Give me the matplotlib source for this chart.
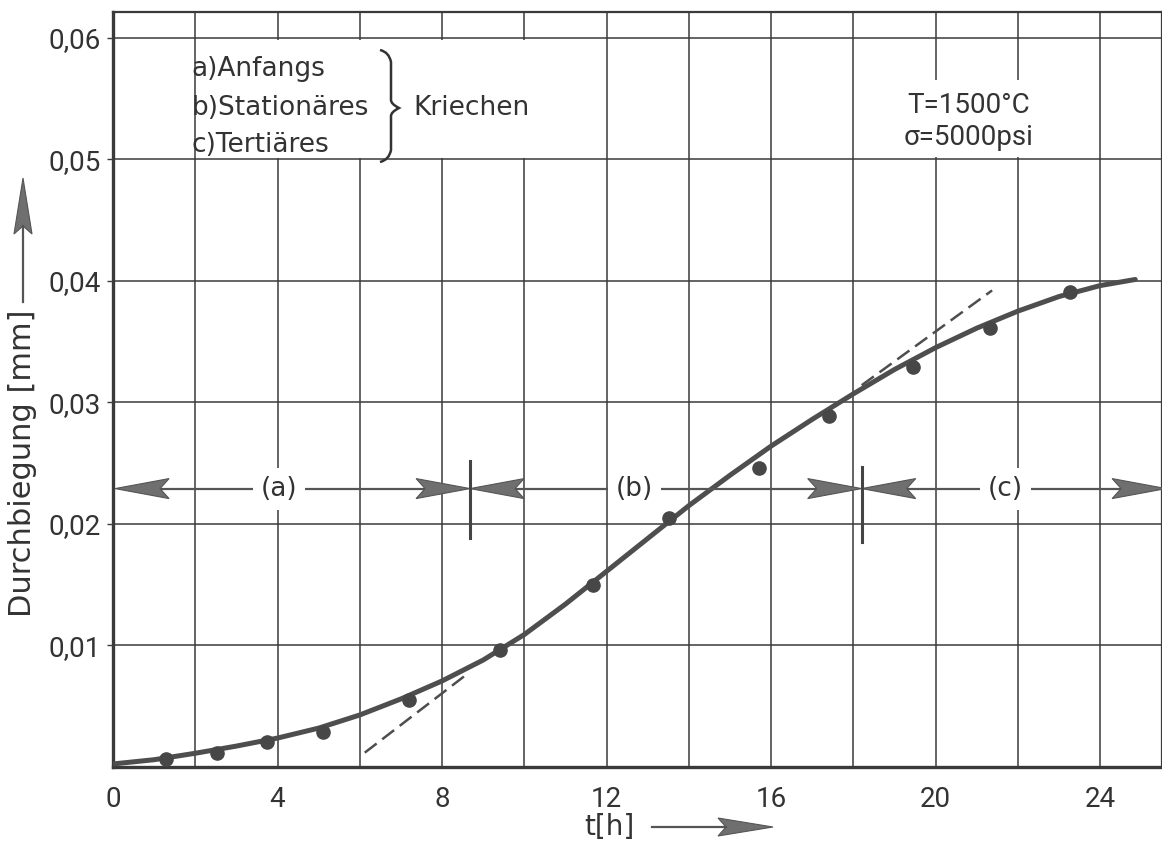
import matplotlib
matplotlib.use("Agg")
import matplotlib.pyplot as plt
from matplotlib.patches import Polygon, Rectangle
from matplotlib.path import Path
from matplotlib.patches import PathPatch

# ---------------- data ----------------
curve_t = [0, 1, 2, 3, 4, 5, 6, 7, 8, 9, 10, 11, 12, 13, 14, 15, 16, 17, 18,
           19, 20, 21, 22, 23, 24, 24.85]
curve_y = [0.00025, 0.0006, 0.00113, 0.00172, 0.00238, 0.0032, 0.00428, 0.0056,
           0.00708, 0.0088, 0.0109, 0.0134, 0.0161, 0.0188, 0.0215, 0.0240,
           0.0264, 0.0286, 0.0307, 0.0327, 0.0345, 0.0361, 0.0375, 0.0387,
           0.0396, 0.0401]

points_t = [1.29, 2.54, 3.75, 5.11, 7.20, 9.40, 11.67, 13.52, 15.71, 17.40,
            19.44, 21.31, 23.26]
points_y = [0.00066, 0.00118, 0.00209, 0.00291, 0.00553, 0.00965, 0.0150,
            0.0205, 0.02456, 0.0289, 0.0329, 0.0361, 0.0391]

tangent_a_t = [6.12, 8.58]
tangent_a_y = [0.00118, 0.00757]
tangent_c_t = [18.2, 21.37]
tangent_c_y = [0.0314, 0.0392]

phase_bounds = [0.05, 8.68, 18.2, 25.6]
phase_labels = ["(a)", "(b)", "(c)"]
phase_label_t = [4.03, 12.67, 21.7]
phase_y = 0.0229
phase_tick_lo = [0.0188, 0.0185]
phase_tick_hi = [0.0252, 0.0247]

x_ticks = [0, 4, 8, 12, 16, 20, 24]
x_ticklabels = ["0", "4", "8", "12", "16", "20", "24"]
y_ticks = [0.01, 0.02, 0.03, 0.04, 0.05, 0.06]
y_ticklabels = ["0,01", "0,02", "0,03", "0,04", "0,05", "0,06"]

legend_lines = ["a)Anfangs", "b)Stationäres", "c)Tertiäres"]
legend_word = "Kriechen"
cond_lines = "T=1500°C\nσ=5000psi"

# ---------------- geometry ----------------
W, H = 1162, 841
PL, PB, PR, PT = 113, 767, 1162, 12
XMAX, YMAX = 25.5, 0.0621
sx = (PR - PL) / XMAX      # px per hour
sy = (PB - PT) / YMAX      # px per unit

TXT = "#333333"
GRID = "#3a3a3a"
CURVE = "#4e4e4e"
FILL = "#6f6f6f"

fig = plt.figure(figsize=(W / 100, H / 100), dpi=100)
ax = fig.add_axes([PL / W, 1 - PB / H, (PR - PL) / W, (PB - PT) / H])
ax.set_xlim(0, XMAX)
ax.set_ylim(0, YMAX)

# grid
for t in range(2, 26, 2):
    ax.axvline(t, color=GRID, lw=1.1, zorder=1)
for y in y_ticks:
    ax.axhline(y, color=GRID, lw=1.1, zorder=1)

for s in ["left", "bottom"]:
    ax.spines[s].set_linewidth(2.4)
    ax.spines[s].set_color("#3a3a3a")
for s in ["top", "right"]:
    ax.spines[s].set_linewidth(1.6)
    ax.spines[s].set_color("#3a3a3a")

ax.set_xticks(x_ticks)
ax.set_xticklabels(x_ticklabels, fontfamily="Roboto", fontsize=20, color=TXT)
ax.set_yticks(y_ticks)
ax.set_yticklabels(y_ticklabels, fontfamily="Roboto", fontsize=20, color=TXT)
ax.tick_params(axis="x", length=0, pad=14)
ax.tick_params(axis="y", length=4, width=1, color=GRID, pad=5)

# white boxes where text interrupts the grid
ax.add_patch(Rectangle((2.06, 0.0501), 11.9 - 2.06, 0.0598 - 0.0501,
                       facecolor="white", edgecolor="none", zorder=2))
ax.add_patch(Rectangle((18.1, 0.0502), 23.9 - 18.1, 0.0565 - 0.0502,
                       facecolor="white", edgecolor="none", zorder=2))

# curve, points, tangents
ax.plot(curve_t, curve_y, color=CURVE, lw=3.6, solid_capstyle="round",
        solid_joinstyle="round", zorder=5)
ax.plot(points_t, points_y, "o", color="#474747", ms=9.5, zorder=6)
ax.plot(tangent_a_t, tangent_a_y, color=CURVE, lw=1.8, dashes=(6, 2.8), zorder=4)
ax.plot(tangent_c_t, tangent_c_y, color=CURVE, lw=1.8, dashes=(6, 2.8), zorder=4)

# phase arrows
HL = 54 / sx
HW = 10 / sy
NOTCH = 9 / sx


def head(tip, y, d):
    pts = [(tip, y), (tip - d * HL, y + HW), (tip - d * (HL - NOTCH), y),
           (tip - d * HL, y - HW)]
    ax.add_patch(Polygon(pts, closed=True, facecolor=FILL, edgecolor="#555555",
                         lw=0.8, zorder=7, clip_on=False))


for i in range(3):
    a, b = phase_bounds[i], phase_bounds[i + 1]
    head(a, phase_y, -1)
    head(b, phase_y, +1)
    ax.plot([a + HL - NOTCH, b - HL + NOTCH], [phase_y, phase_y], color="#555555",
            lw=1.6, zorder=6)
    ax.text(phase_label_t[i], phase_y, phase_labels[i], ha="center", va="center",
            fontsize=19, color=TXT, zorder=8,
            bbox=dict(boxstyle="square,pad=0.3", fc="white", ec="none"))
for i, tb in enumerate(phase_bounds[1:3]):
    ax.plot([tb, tb], [phase_tick_lo[i], phase_tick_hi[i]], color="#444444",
            lw=2.2, zorder=8)

# legend text
legend_t = 1.9
legend_base = [0.0568, 0.0536, 0.0506]
for txt, yb in zip(legend_lines, legend_base):
    ax.text(legend_t, yb, txt, ha="left", va="baseline", fontsize=19,
            color=TXT, zorder=8)
ax.text(7.3, 0.0536, legend_word, ha="left", va="baseline", fontsize=19,
        color=TXT, zorder=8)

# brace (in pixel units relative to its anchor)
bx = (391 - PL) / sx
def P(dx, dy):
    return (bx + dx / sx, (PB - dy) / sy)
verts = [P(-11, 50), P(-2, 52), P(0, 62), P(0, 62),
         P(0, 100), P(0, 100), P(0, 104), P(8, 108),
         P(0, 112), P(0, 116), P(0, 116), P(0, 150),
         P(0, 150), P(-2, 160), P(-11, 162)]
codes = [Path.MOVETO, Path.CURVE3, Path.CURVE3, Path.LINETO,
         Path.LINETO, Path.LINETO, Path.CURVE3, Path.CURVE3,
         Path.CURVE3, Path.CURVE3, Path.LINETO, Path.LINETO,
         Path.LINETO, Path.CURVE3, Path.CURVE3]
ax.add_patch(PathPatch(Path(verts, codes), facecolor="none", edgecolor=TXT,
                       lw=1.8, zorder=8))

# conditions
ax.text(20.8, 0.0555, cond_lines, ha="center", va="top", fontsize=20,
        fontfamily="Roboto", color=TXT, linespacing=1.25, zorder=8)

# axis labels with arrows (figure pixel coordinates)
def fx(x):
    return x / W
def fy(y):
    return 1 - y / H

fig.text(fx(23), fy(463), "Durchbiegung [mm]", rotation=90, ha="center",
         va="center", fontsize=22, color=TXT)
fig.add_artist(plt.Line2D([fx(23), fx(23)], [fy(302), fy(226)], color="#555555",
                          lw=1.6))
fig.add_artist(Polygon([(fx(23), fy(178)), (fx(32), fy(234)), (fx(23), fy(226)),
                        (fx(14), fy(234))], closed=True, facecolor=FILL,
                       edgecolor="#555555", lw=0.8))

fig.text(fx(609), fy(827), "t[h]", ha="center", va="center", fontsize=20,
         color=TXT)
fig.add_artist(plt.Line2D([fx(652), fx(726)], [fy(827), fy(827)], color="#555555",
                          lw=1.6))
fig.add_artist(Polygon([(fx(773), fy(827)), (fx(718), fy(818)), (fx(726), fy(827)),
                        (fx(718), fy(836))], closed=True, facecolor=FILL,
                       edgecolor="#555555", lw=0.8))

fig.savefig("out.png", dpi=100, facecolor="white")
